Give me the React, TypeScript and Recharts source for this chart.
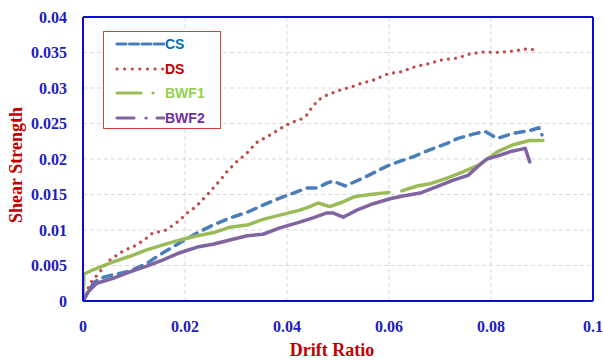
import React from "react";
import { LineChart, Line, XAxis, YAxis, CartesianGrid, ReferenceLine } from "recharts";

// Drift ratio (x) and shear strength (y) for each specimen
const driftCS = [0, 0.002, 0.0033, 0.0059, 0.0092, 0.0125, 0.0157, 0.019, 0.0224, 0.0255, 0.0288, 0.0322, 0.0353, 0.0386, 0.042, 0.0439, 0.0459, 0.0478, 0.049, 0.0514, 0.0549, 0.0582, 0.0602, 0.0647, 0.068, 0.0714, 0.0735, 0.0765, 0.0788, 0.0812, 0.0843, 0.0876, 0.0894, 0.09];
const shearCS = [0, 0.0025, 0.0032, 0.0037, 0.0042, 0.0053, 0.0068, 0.0082, 0.0096, 0.0107, 0.0117, 0.0125, 0.0135, 0.0145, 0.0154, 0.0159, 0.0159, 0.0166, 0.0169, 0.0162, 0.0173, 0.0185, 0.0192, 0.0203, 0.0213, 0.0222, 0.0229, 0.0235, 0.0239, 0.0229, 0.0236, 0.024, 0.0244, 0.0234];

const driftDS = [0, 0.0014, 0.0053, 0.0082, 0.0098, 0.0122, 0.0137, 0.016, 0.0175, 0.019, 0.0204, 0.022, 0.0243, 0.0255, 0.0269, 0.0282, 0.0298, 0.0321, 0.034, 0.0367, 0.0392, 0.041, 0.0425, 0.0439, 0.0445, 0.0461, 0.0478, 0.0504, 0.0533, 0.0543, 0.0569, 0.0598, 0.0625, 0.0651, 0.0676, 0.0706, 0.0733, 0.0759, 0.0788, 0.0814, 0.0843, 0.087, 0.0884];
const shearDS = [0, 0.0025, 0.0058, 0.0072, 0.0076, 0.0087, 0.0096, 0.0099, 0.0106, 0.0114, 0.0124, 0.0132, 0.0149, 0.0159, 0.017, 0.0182, 0.0194, 0.0208, 0.0223, 0.0234, 0.0245, 0.0252, 0.0255, 0.0262, 0.0269, 0.0283, 0.029, 0.0297, 0.0303, 0.0306, 0.0311, 0.032, 0.0323, 0.033, 0.0334, 0.034, 0.0342, 0.0348, 0.0351, 0.035, 0.0352, 0.0355, 0.0354];

const driftBWF1 = [0, 0.0002, 0.002, 0.0059, 0.0092, 0.0125, 0.0157, 0.019, 0.0224, 0.0255, 0.0288, 0.0322, 0.0353, 0.0386, 0.0425, 0.0445, 0.0461, 0.0484, 0.0504, 0.0533, 0.0563, 0.06, 0.061, 0.0625, 0.0655, 0.068, 0.0714, 0.0745, 0.0778, 0.0812, 0.0843, 0.0876, 0.0902];
const shearBWF1: (number | null)[] = [0, 0.0038, 0.0044, 0.0055, 0.0063, 0.0072, 0.0079, 0.0086, 0.0092, 0.0096, 0.0104, 0.0107, 0.0115, 0.0121, 0.0128, 0.0133, 0.0138, 0.0133, 0.0138, 0.0147, 0.015, 0.0153, null, 0.0155, 0.0162, 0.0165, 0.0173, 0.0182, 0.0192, 0.021, 0.022, 0.0226, 0.0226];

const driftBWF2 = [0, 0.001, 0.0027, 0.0059, 0.0092, 0.0125, 0.0157, 0.019, 0.0224, 0.0255, 0.0288, 0.0322, 0.0353, 0.0386, 0.042, 0.0451, 0.0478, 0.049, 0.051, 0.0537, 0.0569, 0.0602, 0.0627, 0.0661, 0.0694, 0.0725, 0.0755, 0.0778, 0.0792, 0.0812, 0.0841, 0.0867, 0.0876];
const shearBWF2 = [0, 0.0013, 0.0025, 0.0032, 0.0041, 0.0049, 0.0058, 0.0068, 0.0076, 0.008, 0.0086, 0.0092, 0.0094, 0.0103, 0.011, 0.0117, 0.0124, 0.0124, 0.0118, 0.0128, 0.0137, 0.0144, 0.0148, 0.0152, 0.0161, 0.017, 0.0177, 0.0192, 0.02, 0.0204, 0.0211, 0.0215, 0.0196];

const xTicks = [0, 0.02, 0.04, 0.06, 0.08, 0.1];
const yTicks = [0, 0.005, 0.01, 0.015, 0.02, 0.025, 0.03, 0.035, 0.04];

const pairs = (xs: number[], ys: (number | null)[]) => xs.map((x, i) => ({ x, y: ys[i] }));

const series = [
  { name: "CS", data: pairs(driftCS, shearCS), color: "#4a7ebb", text: "#0070c0", dash: "9 7", legendDash: "9 3.5" },
  { name: "DS", data: pairs(driftDS, shearDS), color: "#c0504d", text: "#c00000", dash: "0.1 7", legendDash: "0.1 7.5" },
  { name: "BWF1", data: pairs(driftBWF1, shearBWF1), color: "#9bbb59", text: "#92d050", dash: undefined, legendDash: "24 12 0.1 40" },
  { name: "BWF2", data: pairs(driftBWF2, shearBWF2), color: "#8064a2", text: "#7030a0", dash: undefined, legendDash: "17 12 0.1 11 12" },
];

const AXIS_BLUE = "#0a0ad0";
const TICK_BLUE = "#1c1cc0";
const TITLE_RED = "#c00000";
const SERIF = "'Liberation Serif', 'Times New Roman', serif";

const tickStyle = { fill: TICK_BLUE, fontFamily: SERIF, fontSize: 16, fontWeight: 700 };

const XTitle = (props: any) => {
  const vb = props.viewBox || {};
  return (
    <text x={vb.x + vb.width / 2 - 6} y={vb.y + 55} textAnchor="middle" fill={TITLE_RED} fontFamily={SERIF} fontSize={18} fontWeight={700}>
      Drift Ratio
    </text>
  );
};

const YTitle = (props: any) => {
  const vb = props.viewBox || {};
  const cx = vb.x + 22;
  const cy = vb.y + vb.height / 2 + 6;
  return (
    <text x={cx} y={cy} transform={`rotate(-90, ${cx}, ${cy})`} textAnchor="middle" fill={TITLE_RED} fontFamily={SERIF} fontSize={18} fontWeight={700}>
      Shear Strength
    </text>
  );
};

const LegendBox = () => (
  <div
    style={{
      position: "absolute",
      left: 103,
      top: 31,
      width: 118,
      height: 98,
      border: "1px solid #d94040",
      background: "#fff",
      boxSizing: "border-box",
    }}
  >
    {series.map((s, i) => (
      <div key={s.name} style={{ position: "absolute", left: 0, top: 2 + i * 24.7, height: 20, width: 116 }}>
        <svg width={50} height={20} style={{ position: "absolute", left: 11, top: 0 }}>
          <line x1={2} y1={10} x2={49} y2={10} stroke={s.color} strokeWidth={3.2} strokeDasharray={s.legendDash} strokeLinecap="round" />
        </svg>
        <span
          style={{
            position: "absolute",
            left: 61,
            top: 1,
            fontFamily: "'Liberation Sans', Arial, sans-serif",
            fontSize: 14,
            fontWeight: 700,
            color: s.text,
            lineHeight: "18px",
          }}
        >
          {s.name}
        </span>
      </div>
    ))}
  </div>
);

export default function App() {
  return (
    <div style={{ position: "absolute", left: 0, top: 0, width: 603, height: 361, background: "#fff", overflow: "hidden" }}>
      <LineChart width={603} height={361} margin={{ top: 17, right: 10, bottom: 0, left: 0 }}>
        <CartesianGrid stroke="#d9d9d9" strokeDasharray="4 3" />
        <XAxis
          type="number"
          dataKey="x"
          domain={[0, 0.1]}
          ticks={xTicks}
          allowDataOverflow
          height={60}
          axisLine={{ stroke: AXIS_BLUE, strokeWidth: 2 }}
          tickLine={false}
          tickSize={0}
          tickMargin={20}
          tick={tickStyle}
          interval={0}
          label={<XTitle />}
        />
        <YAxis
          type="number"
          dataKey="y"
          domain={[0, 0.04]}
          ticks={yTicks}
          allowDataOverflow
          width={83}
          axisLine={{ stroke: AXIS_BLUE, strokeWidth: 2 }}
          tickLine={false}
          tickSize={0}
          tickMargin={16}
          tick={tickStyle}
          interval={0}
          label={<YTitle />}
        />
        <ReferenceLine y={0.04} stroke={AXIS_BLUE} strokeWidth={2} />
        <ReferenceLine x={0.1} stroke={AXIS_BLUE} strokeWidth={2} />
        {series.map((s) => (
          <Line
            key={s.name}
            name={s.name}
            data={s.data}
            dataKey="y"
            type="linear"
            stroke={s.color}
            strokeWidth={s.name === "DS" ? 3.2 : 3.5}
            strokeDasharray={s.dash}
            strokeLinecap="round"
            strokeLinejoin="round"
            dot={false}
            activeDot={false}
            connectNulls={false}
            isAnimationActive={false}
          />
        ))}
      </LineChart>
      <LegendBox />
    </div>
  );
}
